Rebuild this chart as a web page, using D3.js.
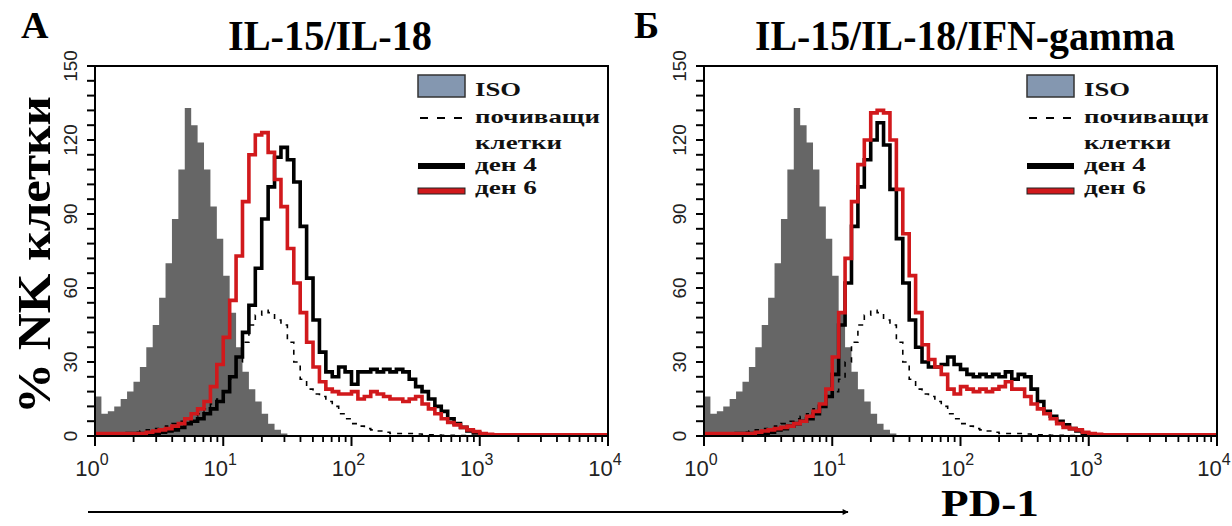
<!DOCTYPE html>
<html>
<head>
<meta charset="utf-8">
<script src="https://cdn.jsdelivr.net/npm/d3@7"></script>
<style>
  html, body { margin: 0; padding: 0; background: #fff; }
  svg { display: block; }
</style>
</head>
<body>
<svg id="chart" width="1232" height="526"></svg>
<script>
// Histogram bins on a log10 scale, 0.05 decade each, from 10^0 to 10^4
const BIN_WIDTH = 0.05;
const N_BINS = 80;

// ---- Series (% NK cells per bin) ----
const isoCounts = [16, 9, 10, 12, 15, 18, 22, 28, 36, 45, 56, 70, 88, 108, 133, 126, 119, 108, 93, 80,
  65, 50, 36, 26, 19, 14, 9, 5, 2.5, 1, 0.3, 0, 0, 0, 0, 0, 0, 0, 0, 0,
  0, 0, 0, 0, 0, 0, 0, 0, 0, 0, 0, 0, 0, 0, 0, 0, 0, 0, 0, 0,
  0, 0, 0, 0, 0, 0, 0, 0, 0, 0, 0, 0, 0, 0, 0, 0, 0, 0, 0, 0];

const restingCounts = [0.5, 0.5, 0.5, 0.5, 1, 1, 1.5, 2, 2.5, 3, 3.5, 4, 5, 6, 7, 8, 9, 11, 13, 15,
  18, 23, 30, 38, 45, 49, 51, 50, 47, 45, 38, 30, 23, 19, 17, 16, 14, 12, 9, 7,
  5, 4, 3, 2.5, 2, 1.5, 1, 1, 1, 1, 0.8, 0.6, 0.5, 0.4, 0.3, 0.3, 0.2, 0.2, 0.2, 0.1,
  0, 0, 0, 0, 0, 0, 0, 0, 0, 0, 0, 0, 0, 0, 0, 0, 0, 0, 0, 0];

const aDay4Counts = [0.5, 0.5, 0.5, 0.5, 0.5, 1, 1, 1, 1, 1, 1.5, 2, 2.5, 3.5, 5, 6, 7, 9, 11, 14,
  18, 24, 32, 42, 53, 68, 88, 101, 113, 117, 112, 103, 85, 64, 47, 34, 26, 24, 28, 26,
  21, 26, 26, 27, 26, 27, 26, 27, 26, 23, 20, 18, 15, 12, 10, 7, 5, 3.5, 2, 1.2,
  0.6, 0.3, 0.3, 0.3, 0.3, 0.3, 0.3, 0.3, 0.3, 0.3, 0.3, 0.3, 0.3, 0.3, 0.3, 0.3, 0.3, 0.3, 0.3, 0.3];

const aDay6Counts = [1, 1, 1, 1, 1, 1, 1, 1, 1.5, 2, 2.5, 3, 4, 5, 7, 9, 11, 14, 20, 29,
  40, 55, 73, 95, 114, 122, 123, 115, 104, 93, 76, 62, 50, 38, 28, 22, 19, 18, 17, 17,
  18, 15, 16, 18, 17, 16, 15, 15, 14, 15, 16, 13, 11, 9, 7, 5.5, 4.5, 3.5, 2.5, 1.8,
  1, 0.7, 0.5, 0.5, 0.5, 0.5, 0.5, 0.5, 0.5, 0.5, 0.5, 0.5, 0.5, 0.5, 0.5, 0.5, 0.5, 0.5, 0.5, 0.5];

const bDay4Counts = [0.5, 0.5, 0.5, 0.5, 0.5, 1, 1, 1, 1, 1, 1.5, 2.5, 3, 4, 5, 6, 7, 9, 12, 16,
  25, 45, 62, 85, 101, 112, 120, 127, 118, 100, 80, 62, 47, 36, 30, 28, 28, 29, 32, 29,
  27, 25, 24, 25, 24, 25, 24, 26, 23, 25, 24, 19, 14, 10, 8, 6, 4.5, 3, 2, 1,
  0.5, 0.3, 0.3, 0.3, 0.3, 0.3, 0.3, 0.3, 0.3, 0.3, 0.3, 0.3, 0.3, 0.3, 0.3, 0.3, 0.3, 0.3, 0.3, 0.3];

const bDay6Counts = [1, 1, 1, 1, 1, 1, 1, 1, 1.5, 2, 2.5, 3, 3.5, 4, 5, 6, 8, 10, 13, 19,
  32, 50, 72, 95, 110, 120, 131, 132, 131, 120, 100, 82, 65, 50, 37, 31, 28, 25, 19, 17,
  20, 19, 18, 19, 18, 19, 20, 22, 19, 19, 16, 13, 11, 9, 7, 5, 3.5, 3, 2.5, 1.5,
  1, 0.7, 0.5, 0.5, 0.5, 0.5, 0.5, 0.5, 0.5, 0.5, 0.5, 0.5, 0.5, 0.5, 0.5, 0.5, 0.5, 0.5, 0.5, 0.5];

// ---- Labels ----
const panelLetters = ["A", "Б"];
const panelTitles = ["IL-15/IL-18", "IL-15/IL-18/IFN-gamma"];
const xTickExponents = [0, 1, 2, 3, 4];
const yTickLabels = [0, 30, 60, 90, 120, 150];
const legendLabels = ["ISO", "почиващи", "клетки", "ден 4", "ден 6"];
const yAxisTitle = "% NK клетки";
const xAxisTitle = "PD-1";

const COLORS = { iso: "#666666", isoKey: "#8497b0", day4: "#000", day6: "#d1191c" };
const SERIF = "'Liberation Serif', 'Times New Roman', serif";
const SANS = "'Liberation Sans', Arial, sans-serif";

const svg = d3.select("#chart");

const panels = [
  { left: 95, right: 608, letterX: 21, titleX: 330, titleLen: 204, day4: aDay4Counts, day6: aDay6Counts },
  { left: 704, right: 1217, letterX: 634, titleX: 965, titleLen: 420, day4: bDay4Counts, day6: bDay6Counts }
];
const plotTop = 66, plotBottom = 436;

function toPoints(counts) {
  const pts = counts.map((v, i) => [Math.pow(10, i * BIN_WIDTH), v]);
  pts.push([Math.pow(10, N_BINS * BIN_WIDTH), counts[counts.length - 1]]);
  return pts;
}

panels.forEach((p, k) => {
  const x = d3.scaleLog().domain([1, 1e4]).range([p.left, p.right]);
  const y = d3.scaleLinear().domain([0, 150]).range([plotBottom, plotTop]);
  const g = svg.append("g");

  const clipId = "clip" + k;
  svg.append("clipPath").attr("id", clipId)
    .append("rect").attr("x", p.left).attr("y", plotTop)
    .attr("width", p.right - p.left).attr("height", plotBottom - plotTop);

  const plot = g.append("g").attr("clip-path", `url(#${clipId})`);

  // ---- ISO filled histogram ----
  const area = d3.area()
    .x(d => x(d[0])).y0(y(0)).y1(d => y(d[1]))
    .curve(d3.curveStepAfter);
  plot.append("path").datum(toPoints(isoCounts))
    .attr("d", area).attr("fill", COLORS.iso);

  const line = d3.line()
    .x(d => x(d[0])).y(d => y(d[1]))
    .curve(d3.curveStepAfter);

  // ---- resting cells (dashed) ----
  plot.append("path").datum(toPoints(restingCounts))
    .attr("d", line).attr("fill", "none")
    .attr("stroke", "#000").attr("stroke-width", 1.6)
    .attr("stroke-dasharray", "5,6");

  // ---- day 4 ----
  plot.append("path").datum(toPoints(p.day4))
    .attr("d", line).attr("fill", "none")
    .attr("stroke", COLORS.day4).attr("stroke-width", 3.6);

  // ---- day 6 ----
  plot.append("path").datum(toPoints(p.day6))
    .attr("d", line).attr("fill", "none")
    .attr("stroke", COLORS.day6).attr("stroke-width", 3.6);

  // ---- frame ----
  g.append("rect")
    .attr("x", p.left).attr("y", plotTop)
    .attr("width", p.right - p.left).attr("height", plotBottom - plotTop)
    .attr("fill", "none").attr("stroke", "#000").attr("stroke-width", 2);

  // ---- y axis ticks ----
  const yTicks = d3.range(0, 151, 6);
  g.selectAll(".ytick").data(yTicks).join("line")
    .attr("x1", p.left - 8).attr("x2", p.left)
    .attr("y1", d => y(d)).attr("y2", d => y(d))
    .attr("stroke", "#000").attr("stroke-width", 2);

  g.selectAll(".ylab").data(yTickLabels).join("text")
    .attr("transform", d => `translate(${p.left - 18},${y(d)}) rotate(-90)`)
    .attr("text-anchor", "middle")
    .style("font-family", SANS)
    .style("font-size", "19px").style("fill", "#222")
    .text(d => d);

  // ---- x axis ticks ----
  const minor = [];
  xTickExponents.slice(0, -1).forEach(e => {
    for (let m = 2; m <= 9; m++) minor.push(m * Math.pow(10, e));
  });
  g.selectAll(".xminor").data(minor).join("line")
    .attr("x1", d => x(d)).attr("x2", d => x(d))
    .attr("y1", plotBottom).attr("y2", plotBottom + 6)
    .attr("stroke", "#000").attr("stroke-width", 1.8);
  g.selectAll(".xmajor").data(xTickExponents).join("line")
    .attr("x1", d => x(Math.pow(10, d))).attr("x2", d => x(Math.pow(10, d)))
    .attr("y1", plotBottom).attr("y2", plotBottom + 10)
    .attr("stroke", "#000").attr("stroke-width", 2);

  const xl = g.selectAll(".xlab").data(xTickExponents).join("text")
    .attr("x", d => x(Math.pow(10, d)) - 3).attr("y", plotBottom + 40)
    .attr("text-anchor", "middle")
    .style("font-family", SANS)
    .style("font-size", "22px").style("fill", "#222");
  xl.append("tspan").text("10");
  xl.append("tspan").attr("dy", -11).style("font-size", "16px").text(d => d);

  // ---- panel letter and title ----
  g.append("text").attr("x", p.letterX).attr("y", 38)
    .style("font-family", SERIF)
    .style("font-weight", "bold").style("font-size", "38px")
    .text(panelLetters[k]);
  g.append("text").attr("x", p.titleX).attr("y", 50)
    .attr("text-anchor", "middle")
    .attr("textLength", p.titleLen).attr("lengthAdjust", "spacingAndGlyphs")
    .style("font-family", SERIF)
    .style("font-weight", "bold").style("font-size", "43px")
    .text(panelTitles[k]);

  // ---- legend ----
  const lx = p.right - 190;
  const tx = p.right - 133;
  const lg = g.append("g")
    .style("font-family", SERIF)
    .style("font-weight", "bold").style("font-size", "19px").style("fill", "#111");
  const lbl = (yy, txt, len) => lg.append("text").attr("x", tx).attr("y", yy)
    .attr("textLength", len).attr("lengthAdjust", "spacingAndGlyphs").text(txt);

  lg.append("rect").attr("x", lx).attr("y", 75).attr("width", 47).attr("height", 22)
    .attr("fill", COLORS.isoKey).attr("stroke", "#333").attr("stroke-width", 1.5);
  lbl(96, legendLabels[0], 46);
  lg.append("line").attr("x1", lx + 2).attr("x2", lx + 44).attr("y1", 118).attr("y2", 118)
    .attr("stroke", "#000").attr("stroke-width", 2).attr("stroke-dasharray", "8,9");
  lbl(123, legendLabels[1], 125);
  lbl(149, legendLabels[2], 87);
  lg.append("rect").attr("x", lx).attr("y", 163).attr("width", 47).attr("height", 6)
    .attr("fill", COLORS.day4);
  lbl(171, legendLabels[3], 62);
  lg.append("rect").attr("x", lx).attr("y", 188).attr("width", 47).attr("height", 6)
    .attr("fill", COLORS.day6).attr("stroke", "#222").attr("stroke-width", 1);
  lbl(194, legendLabels[4], 62);
});

// ---- y axis title ----
svg.append("text")
  .attr("transform", "translate(50,255) rotate(-90)")
  .attr("text-anchor", "middle")
  .attr("textLength", 318).attr("lengthAdjust", "spacingAndGlyphs")
  .style("font-family", SERIF)
  .style("font-weight", "bold").style("font-size", "46px")
  .text(yAxisTitle);

// ---- bottom arrow and x title ----
svg.append("defs").append("marker")
  .attr("id", "arrow").attr("viewBox", "0 0 10 10")
  .attr("refX", 9).attr("refY", 5)
  .attr("markerWidth", 8).attr("markerHeight", 6)
  .attr("markerUnits", "userSpaceOnUse")
  .attr("orient", "auto")
  .append("path").attr("d", "M0,0 L10,5 L0,10 Z").attr("fill", "#000");

svg.append("line")
  .attr("x1", 88).attr("x2", 848).attr("y1", 512).attr("y2", 512)
  .attr("stroke", "#000").attr("stroke-width", 2)
  .attr("marker-end", "url(#arrow)");

svg.append("text")
  .attr("x", 990).attr("y", 516).attr("text-anchor", "middle")
  .attr("textLength", 98).attr("lengthAdjust", "spacingAndGlyphs")
  .style("font-family", SERIF)
  .style("font-weight", "bold").style("font-size", "38px")
  .text(xAxisTitle);
</script>
</body>
</html>
